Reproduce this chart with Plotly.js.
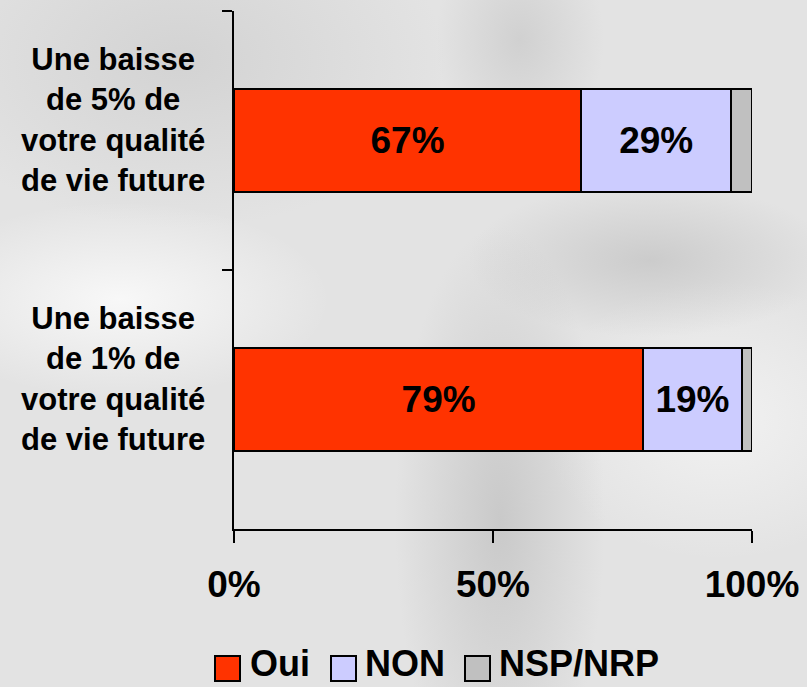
<!DOCTYPE html>
<html>
<head>
<meta charset="utf-8">
<script src="https://cdn.plot.ly/plotly-3.0.1.min.js"></script>
<style>
html, body { margin:0; padding:0; width:807px; height:687px; overflow:hidden; }
body {
  background:
    radial-gradient(ellipse 150px 420px at 500px 520px, rgba(180,180,180,0.55), rgba(180,180,180,0) 70%),
    radial-gradient(ellipse 120px 160px at 520px 40px, rgba(190,190,190,0.5), rgba(190,190,190,0) 70%),
    radial-gradient(ellipse 260px 110px at 650px 260px, rgba(175,175,175,0.45), rgba(175,175,175,0) 70%),
    radial-gradient(ellipse 300px 140px at 120px 300px, rgba(250,250,250,0.9), rgba(250,250,250,0) 70%),
    radial-gradient(ellipse 260px 200px at 720px 420px, rgba(245,245,245,0.8), rgba(245,245,245,0) 70%),
    radial-gradient(ellipse 380px 240px at 180px 60px, rgba(200,200,200,0.6), rgba(200,200,200,0) 70%),
    #e3e3e3;
}
#chart { width:807px; height:687px; }
</style>
</head>
<body>
<div id="chart"></div>
<script>
const categories = [
  "Une baisse<br>de 5% de<br>votre qualité<br>de vie future",
  "Une baisse<br>de 1% de<br>votre qualité<br>de vie future"
];
const seriesNames = ["Oui", "NON", "NSP/NRP"];
const oui = [67, 79];
const non = [29, 19];
const nsp = [4, 2];
const tickValues = [0, 50, 100];
const tickLabels = ["0%", "50%", "100%"];

const colors = ["#FF3300", "#CCCCFF", "#C0C0C0"];
const FONT = "Liberation Sans, Arial, sans-serif";

function barTrace(vals, name, color, showText) {
  return {
    type: "bar",
    orientation: "h",
    name: name,
    y: categories,
    x: vals,
    marker: { color: color, line: { color: "#000", width: 2 } },
    text: showText ? vals.map(v => v + "%") : undefined,
    textposition: showText ? "inside" : "none",
    insidetextanchor: "middle",
    textangle: 0,
    constraintext: "none",
    textfont: { family: FONT, size: 37, color: "#000", weight: "bold" },
    hoverinfo: "none",
    showlegend: false
  };
}

const data = [
  barTrace(oui, seriesNames[0], colors[0], true),
  barTrace(non, seriesNames[1], colors[1], true),
  barTrace(nsp, seriesNames[2], colors[2], false)
];

const W = 518, H = 518, L = 234, T = 11;
function px(x) { return (x - L) / W; }
function py(y) { return (T + H - y) / H; }

const annotations = categories.map(c => ({
  xref: "paper", yref: "y",
  x: px(207), y: c,
  xanchor: "right", yanchor: "middle",
  yshift: 21,
  text: c, align: "center", showarrow: false,
  font: { family: FONT, size: 31, color: "#000", weight: "bold" }
}));

const shapes = [];
const legendBoxes = [[215, 240], [331, 356], [465, 490]];
const legendTextX = [248, 363, 497];
seriesNames.forEach((n, i) => {
  shapes.push({
    type: "rect", xref: "paper", yref: "paper",
    x0: px(legendBoxes[i][0]), x1: px(legendBoxes[i][1]),
    y0: py(681), y1: py(656),
    fillcolor: colors[i], line: { color: "#000", width: 2 }
  });
  annotations.push({
    xref: "paper", yref: "paper",
    x: px(legendTextX[i]), y: py(663),
    xanchor: "left", yanchor: "middle",
    text: n, showarrow: false,
    font: { family: FONT, size: 36, color: "#000", weight: "bold" }
  });
});

const layout = {
  width: 807, height: 687,
  margin: { l: L, r: 807 - L - W, t: T, b: 687 - T - H, pad: 0 },
  paper_bgcolor: "rgba(0,0,0,0)",
  plot_bgcolor: "rgba(0,0,0,0)",
  barmode: "stack",
  bargap: 0.6,
  showlegend: false,
  font: { family: FONT, color: "#000" },
  xaxis: {
    range: [0, 100],
    tickvals: tickValues,
    ticktext: tickLabels,
    ticks: "outside", ticklen: 12, tickwidth: 2, tickcolor: "#000",
    ticklabelstandoff: 10,
    showline: true, linecolor: "#000", linewidth: 2,
    showgrid: false, zeroline: false,
    tickfont: { family: FONT, size: 37, color: "#000", weight: "bold" },
    fixedrange: true
  },
  yaxis: {
    type: "category",
    autorange: "reversed",
    tickson: "boundaries",
    ticks: "outside", ticklen: 10, tickwidth: 2, tickcolor: "#000",
    showline: true, linecolor: "#000", linewidth: 2,
    showgrid: false, zeroline: false,
    showticklabels: false,
    fixedrange: true
  },
  annotations: annotations,
  shapes: shapes
};

Plotly.newPlot("chart", data, layout, { displayModeBar: false, staticPlot: true });
</script>
</body>
</html>
